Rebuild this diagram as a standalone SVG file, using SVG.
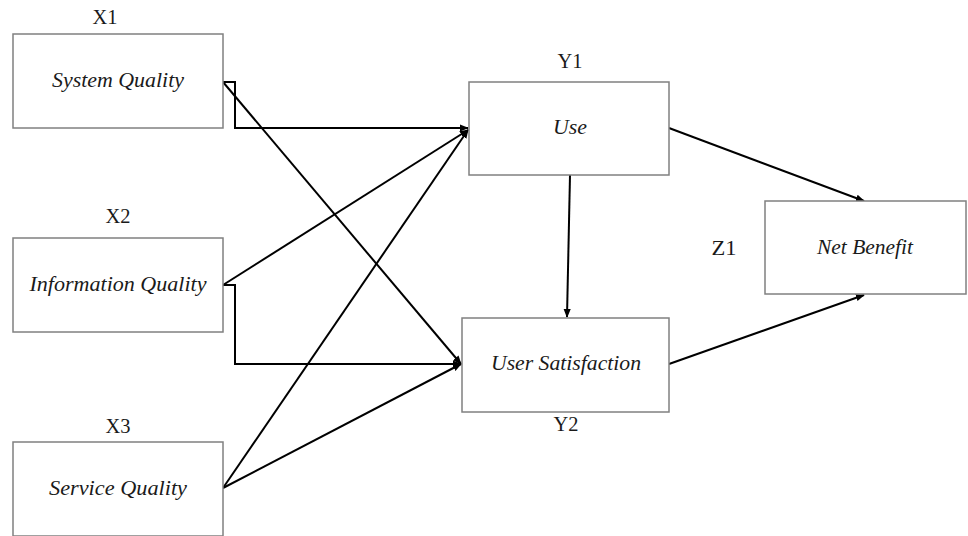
<svg xmlns="http://www.w3.org/2000/svg" width="968" height="536" viewBox="0 0 968 536">
<defs>
<marker id="ah" viewBox="0 0 10 10" refX="9" refY="5" markerWidth="9" markerHeight="9" markerUnits="userSpaceOnUse" orient="auto">
<path d="M0,1 L10,5 L0,9 Z" fill="#000"/>
</marker>
<style>
.box{fill:#fff;stroke:#808080;stroke-width:1.5}
.lbl{font-family:"Liberation Serif","Times New Roman",serif;font-style:italic;font-size:20px;fill:#1a1a1a;text-anchor:middle}
.tag{font-family:"Liberation Serif","Times New Roman",serif;font-size:20px;fill:#1a1a1a;text-anchor:middle}
.ln{fill:none;stroke:#000;stroke-width:2;marker-end:url(#ah)}
</style>
</defs>
<rect width="968" height="536" fill="#fff"/>
<g id="connectors">
<path class="ln" d="M223,82 H235 V128 H468"/>
<path class="ln" d="M223,82 L461,364"/>
<path class="ln" d="M223,285 L468,130"/>
<path class="ln" d="M223,285 H235 V364 H461"/>
<path class="ln" d="M223,488 L468,130"/>
<path class="ln" d="M223,488 L461,364"/>
<path class="ln" d="M570,175 L567,317"/>
<path class="ln" d="M669,128 L864,201"/>
<path class="ln" d="M669,364 L864,295"/>
</g>
<g id="x1">
<rect class="box" x="13" y="34" width="210" height="94"/>
<text class="tag" x="105" y="24" textLength="25" lengthAdjust="spacingAndGlyphs">X1</text>
<text class="lbl" x="118" y="87" textLength="132" lengthAdjust="spacingAndGlyphs">System Quality</text>
</g>
<g id="x2">
<rect class="box" x="13" y="238" width="210" height="94"/>
<text class="tag" x="118" y="223" textLength="25" lengthAdjust="spacingAndGlyphs">X2</text>
<text class="lbl" x="118" y="291" textLength="177" lengthAdjust="spacingAndGlyphs">Information Quality</text>
</g>
<g id="x3">
<rect class="box" x="13" y="442" width="210" height="94"/>
<text class="tag" x="118" y="433" textLength="25" lengthAdjust="spacingAndGlyphs">X3</text>
<text class="lbl" x="118" y="495" textLength="138" lengthAdjust="spacingAndGlyphs">Service Quality</text>
</g>
<g id="y1">
<rect class="box" x="469" y="82" width="200" height="93"/>
<text class="tag" x="570" y="68" textLength="25" lengthAdjust="spacingAndGlyphs">Y1</text>
<text class="lbl" x="570" y="134" textLength="34" lengthAdjust="spacingAndGlyphs">Use</text>
</g>
<g id="y2">
<rect class="box" x="462" y="318" width="207" height="94"/>
<text class="tag" x="566" y="431" textLength="25" lengthAdjust="spacingAndGlyphs">Y2</text>
<text class="lbl" x="566" y="370" textLength="150" lengthAdjust="spacingAndGlyphs">User Satisfaction</text>
</g>
<g id="z1">
<rect class="box" x="765" y="201" width="201" height="93"/>
<text class="tag" x="724" y="255" textLength="25" lengthAdjust="spacingAndGlyphs">Z1</text>
<text class="lbl" x="865" y="254" textLength="96" lengthAdjust="spacingAndGlyphs">Net Benefit</text>
</g>
</svg>
